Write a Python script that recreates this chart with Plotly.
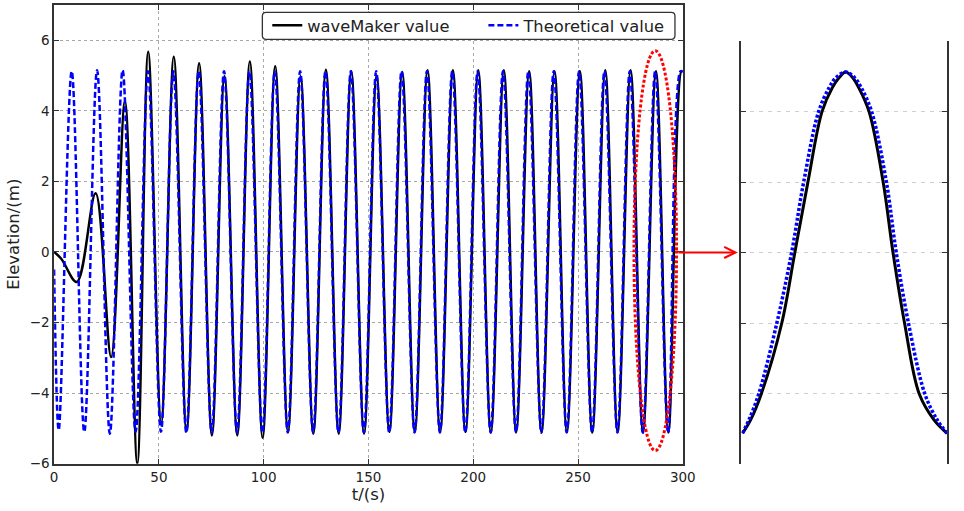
import plotly.graph_objects as go

# ---- data (extrema of each wave) ----
maker_t = [0, 3.5, 10.8, 19.8, 27.2, 33.8, 39.7, 44.9, 51.1, 57.1, 63.2, 69.2, 75.3, 81.3, 87.4,
           93.4, 99.5, 105.5, 111.6, 117.6, 123.7, 129.7, 135.8, 141.8, 147.9, 153.9, 160.0,
           166.1, 172.1, 178.2, 184.2, 190.3, 196.3, 202.4, 208.4, 214.6, 220.5, 226.7, 232.6,
           238.8, 244.7, 250.9, 256.8, 263.0, 268.9, 275.1, 281.0, 287.2, 293.1, 299.3, 300]
maker_v = [0, -0.2, -0.85, 1.66, -2.98, 4.27, -6.0, 5.67, -4.85, 5.53, -5.08, 5.35, -5.2, 4.98, -5.2,
           5.4, -5.27, 5.26, -5.1, 4.98, -5.15, 5.16, -5.15, 5.12, -5.15, 5.0, -5.1,
           5.1, -5.1, 5.15, -5.1, 5.15, -5.1, 5.15, -5.12, 5.15, -5.1, 5.12, -5.12,
           5.12, -5.1, 5.12, -5.12, 5.15, -5.1, 5.15, -5.12, 5.12, -5.12, 5.12, 5.1]

theory_t = [0, 2.2, 8.4, 14.4, 20.5, 26.6, 32.7, 38.9, 44.8, 51.0, 56.9, 63.1, 69.0, 75.2, 81.1,
            87.3, 93.2, 99.4, 105.3, 111.5, 117.4, 123.6, 129.5, 135.7, 141.6, 147.8, 153.7,
            159.9, 165.8, 172.0, 177.9, 184.1, 190.0, 196.2, 202.1, 208.3, 214.2, 220.4, 226.3,
            232.5, 238.4, 244.6, 250.5, 256.7, 262.6, 268.8, 274.7, 280.9, 286.8, 293.0, 298.9, 300]
theory_v = [-0.5, -5.05, 5.12, -5.1, 5.15, -5.15, 5.15, -5.1, 5.12, -5.1, 5.12, -5.12, 5.12, -5.12, 5.12,
            -5.12, 5.12, -5.12, 5.12, -5.12, 5.12, -5.12, 5.12, -5.12, 5.12, -5.12, 5.12,
            -5.12, 5.12, -5.12, 5.12, -5.12, 5.12, -5.12, 5.12, -5.12, 5.12, -5.12, 5.12,
            -5.12, 5.12, -5.12, 5.12, -5.12, 5.12, -5.12, 5.12, -5.12, 5.12, -5.12, 5.12, 5.1]

# zoomed single wave (right panel)
zoom_maker_t = [281.26, 281.74, 282.37, 283.57, 284.34, 285.11, 285.94, 286.55, 286.94, 287.33,
                287.75, 288.10, 288.71, 289.54, 290.12, 290.80, 291.66, 292.53, 293.30]
zoom_maker_v = [-5.12, -4.74, -4.0, -2.0, 0.0, 2.0, 4.0, 4.68, 4.96, 5.12,
                4.96, 4.68, 4.0, 2.0, 0.0, -2.0, -4.0, -4.74, -5.12]
zoom_theory_t = [281.26, 281.64, 282.22, 283.28, 284.15, 284.86, 285.74, 286.36, 286.75, 287.33,
                 287.86, 288.25, 288.86, 289.73, 290.31, 291.03, 291.99, 292.72, 293.30]
zoom_theory_v = [-5.12, -4.74, -4.0, -2.0, 0.0, 2.0, 4.0, 4.68, 4.96, 5.12,
                 4.96, 4.68, 4.0, 2.0, 0.0, -2.0, -4.0, -4.74, -5.12]

x_ticks = [0, 50, 100, 150, 200, 250, 300]
y_ticks = [-6, -4, -2, 0, 2, 4, 6]

W, H = 964, 511
FONT = "DejaVu Sans"

fig = go.Figure()
fig.add_trace(go.Scatter(x=maker_t, y=maker_v, mode="lines", name="waveMaker value",
                         line=dict(color="black", width=2.5, shape="spline"),
                         xaxis="x", yaxis="y", legend="legend"))
fig.add_trace(go.Scatter(x=theory_t, y=theory_v, mode="lines", name="Theoretical value",
                         line=dict(color="#0000ff", width=2.5, dash="6px,3px", shape="spline"),
                         xaxis="x", yaxis="y", legend="legend2"))
fig.add_trace(go.Scatter(x=zoom_maker_t, y=zoom_maker_v, mode="lines", showlegend=False,
                         line=dict(color="black", width=3, shape="spline"),
                         xaxis="x2", yaxis="y2"))
fig.add_trace(go.Scatter(x=zoom_theory_t, y=zoom_theory_v, mode="lines", showlegend=False,
                         line=dict(color="#0000ff", width=3.5, dash="3px,2px", shape="spline"),
                         xaxis="x2", yaxis="y2"))


def px_x(p):
    return p / W


def px_y(p):
    return 1 - p / H


axis_common = dict(showline=True, linecolor="#333", linewidth=1.5, mirror="allticks",
                   ticks="inside", ticklen=5, tickcolor="#333", tickwidth=1.2,
                   zeroline=False, tickfont=dict(family=FONT, size=13.5, color="#222"))

legend_common = dict(yanchor="middle", xanchor="left", orientation="h",
                     bgcolor="rgba(0,0,0,0)", borderwidth=0,
                     font=dict(family=FONT, size=16.3, color="#222"))

fig.update_layout(
    width=W, height=H, margin=dict(l=0, r=0, t=0, b=0),
    paper_bgcolor="white", plot_bgcolor="white",
    font=dict(family=FONT, color="#222"),
    xaxis=dict(domain=[px_x(51), px_x(691)], range=[0, 300], tickvals=x_ticks,
               showgrid=True, gridcolor="#a8a8a8", gridwidth=1, griddash="dot",
               title=dict(text="t/(s)", font=dict(family=FONT, size=16.5), standoff=4),
               anchor="y", **axis_common),
    yaxis=dict(domain=[px_y(471), px_y(5)], range=[-6, 7], tickvals=y_ticks,
               showgrid=True, gridcolor="#a8a8a8", gridwidth=1, griddash="dot",
               title=dict(text="Elevation/(m)", font=dict(family=FONT, size=16.5), standoff=6),
               anchor="x", **axis_common),
    xaxis2=dict(domain=[px_x(750.7), px_x(960)], range=[281.2, 293.3], anchor="y2",
                showline=False, showgrid=False, showticklabels=False, ticks="", zeroline=False),
    yaxis2=dict(domain=[px_y(471.7), px_y(41.7)], range=[-6, 6], tickvals=y_ticks, anchor="x2",
                showline=True, linecolor="#333", linewidth=1.5, mirror="ticks",
                ticks="inside", ticklen=5, tickcolor="#333", tickwidth=1.2,
                showticklabels=False, zeroline=False,
                showgrid=True, gridcolor="#cfcfcf", gridwidth=1, griddash="4px,5px"),
    legend=dict(x=px_x(268), y=px_y(26), **legend_common),
    legend2=dict(x=px_x(488), y=px_y(26), **legend_common),
)

# legend frame (rounded box)
x0, x1, y0, y1, r = px_x(263), px_x(683), px_y(12.5), px_y(40), 0.004
ry = r * W / H
legend_box = (f"M {x0 + r},{y0} L {x1 - r},{y0} Q {x1},{y0} {x1},{y0 - ry} "
              f"L {x1},{y1 + ry} Q {x1},{y1} {x1 - r},{y1} L {x0 + r},{y1} "
              f"Q {x0},{y1} {x0},{y1 + ry} L {x0},{y0 - ry} Q {x0},{y0} {x0 + r},{y0} Z")
fig.add_shape(type="path", xref="paper", yref="paper", path=legend_box,
              fillcolor="white", line=dict(color="#333", width=1.3), layer="above")

# red dotted ellipse around the last wave
fig.add_shape(type="circle", xref="x", yref="y", x0=276.7, x1=297.0, y0=-5.63, y1=5.7,
              line=dict(color="#ff0000", width=3, dash="3px,2px"), layer="above")

# arrow from the ellipse to the zoom panel
fig.add_annotation(xref="paper", yref="paper", x=px_x(747), y=px_y(256.5),
                   ax=-61, ay=0, axref="pixel", ayref="pixel", text="", showarrow=True,
                   arrowhead=5, arrowsize=1.1, arrowwidth=2, arrowcolor="#ff0000")

# remove the default 8px page margin right away (not only after the plot promise resolves),
# so the 964x511 figure fills the window exactly
early_margin_fix = ("}); document.body.style.margin = '0'; "
                    "Promise.resolve().then(function(){ document.body.style.margin = '0';")
fig.write_html("out.html", post_script=early_margin_fix)
